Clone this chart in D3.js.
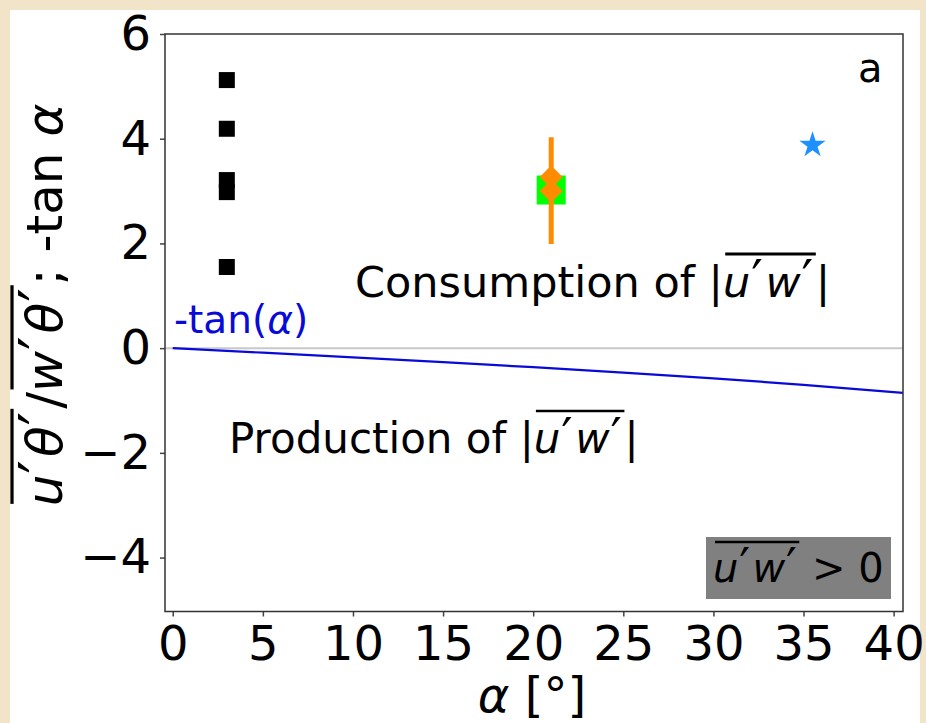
<!DOCTYPE html>
<html>
<head>
<meta charset="utf-8">
<script src="https://cdn.jsdelivr.net/npm/d3@7"></script>
<style>
  html, body { margin: 0; padding: 0; background: #f2e4c8; }
  svg { display: block; }
  text { font-family: "DejaVu Sans", sans-serif; fill: #000; white-space: pre; }
</style>
</head>
<body>
<svg id="chart" width="926" height="723"></svg>
<script>
// ---- data ----
const xTicks = [0, 5, 10, 15, 20, 25, 30, 35, 40];
const yTicks = [-4, -2, 0, 2, 4, 6];

// observations at alpha = 3 deg (black squares)
const squaresAlpha = [3, 3, 3, 3, 3];
const squaresRatio = [5.12, 4.19, 3.21, 2.98, 1.55];

// alpha = 21 deg: green square, orange diamonds with error bar
const greenAlpha = [21];
const greenRatio = [3.02];
const orangeAlpha = [21, 21];
const orangeRatio = [3.27, 3.0];
const orangeErrLow = [1.99];
const orangeErrHigh = [4.03];

// alpha = 35.5 deg: blue star
const starAlpha = [35.5];
const starRatio = [3.88];

// -tan(alpha) curve
const curveAlpha = [0, 5, 10, 15, 20, 25, 30, 35, 40, 41];
const curveValue = [0, -0.087, -0.176, -0.268, -0.364, -0.466, -0.577, -0.700, -0.839, -0.869];

// ---- layout ----
const svg = d3.select("#chart");
svg.append("rect").attr("x", 0).attr("y", 0).attr("width", 926).attr("height", 723).attr("fill", "#f2e4c8");
svg.append("rect").attr("x", 10).attr("y", 10).attr("width", 910).attr("height", 713).attr("fill", "#ffffff");

const plot = { left: 165, right: 903, top: 34, bottom: 611.5 };
const x = d3.scaleLinear().domain([-0.43, 40.52]).range([plot.left, plot.right]);
const y = d3.scaleLinear().domain([-5.03, 6]).range([plot.bottom, plot.top]);

svg.append("clipPath").attr("id", "clip")
  .append("rect").attr("x", plot.left).attr("y", plot.top)
  .attr("width", plot.right - plot.left).attr("height", plot.bottom - plot.top);

const body = svg.append("g").attr("clip-path", "url(#clip)");

// zero reference line
body.append("line")
  .attr("x1", x(-0.43)).attr("x2", x(40.52))
  .attr("y1", y(0)).attr("y2", y(0))
  .attr("stroke", "#c8c8c8").attr("stroke-width", 2);

// -tan(alpha) curve
body.append("path")
  .datum(curveAlpha.map((a, i) => [a, curveValue[i]]))
  .attr("d", d3.line().x(d => x(d[0])).y(d => y(d[1])))
  .attr("fill", "none").attr("stroke", "#0a0ad8").attr("stroke-width", 2.2);

// black squares
const sq = 16;
body.selectAll(".blk").data(squaresAlpha.map((a, i) => [a, squaresRatio[i]]))
  .join("rect").attr("class", "blk")
  .attr("x", d => x(d[0]) - sq / 2).attr("y", d => y(d[1]) - sq / 2)
  .attr("width", sq).attr("height", sq).attr("fill", "#000");

// green square
const gsq = 29;
body.selectAll(".grn").data(greenAlpha.map((a, i) => [a, greenRatio[i]]))
  .join("rect").attr("class", "grn")
  .attr("x", d => x(d[0]) - gsq / 2).attr("y", d => y(d[1]) - gsq / 2)
  .attr("width", gsq).attr("height", gsq).attr("fill", "#00ff00");

// orange error bar
body.selectAll(".err").data(orangeErrLow.map((lo, i) => [orangeAlpha[i], lo, orangeErrHigh[i]]))
  .join("line").attr("class", "err")
  .attr("x1", d => x(d[0])).attr("x2", d => x(d[0]))
  .attr("y1", d => y(d[1])).attr("y2", d => y(d[2]))
  .attr("stroke", "#ff8c00").attr("stroke-width", 5);

// orange diamonds
const dh = 11.5;
body.selectAll(".dia").data(orangeAlpha.map((a, i) => [a, orangeRatio[i]]))
  .join("path").attr("class", "dia")
  .attr("transform", d => `translate(${x(d[0])},${y(d[1])})`)
  .attr("d", `M0,${-dh}L${dh},0L0,${dh}L${-dh},0Z`)
  .attr("fill", "#ff8c00");

// blue star
body.selectAll(".star").data(starAlpha.map((a, i) => [a, starRatio[i]]))
  .join("path").attr("class", "star")
  .attr("transform", d => `translate(${x(d[0])},${y(d[1])})`)
  .attr("d", d3.symbol().type(d3.symbolStar).size(215))
  .attr("fill", "#1e90ff");

// ---- axes ----
const fmt = d3.format("");
const xAxis = svg.append("g").attr("transform", `translate(0,${plot.bottom})`)
  .call(d3.axisBottom(x).tickValues(xTicks).tickSize(5).tickPadding(9).tickFormat(fmt));
const yAxis = svg.append("g").attr("transform", `translate(${plot.left},0)`)
  .call(d3.axisLeft(y).tickValues(yTicks).tickSize(5).tickPadding(9).tickFormat(fmt));
[xAxis, yAxis].forEach(a => {
  a.select(".domain").remove();
  a.selectAll(".tick line").attr("stroke", "#444").attr("stroke-width", 1.5);
  a.selectAll(".tick text").attr("font-size", 48).attr("font-family", "DejaVu Sans").attr("fill", "#000");
});

// frame
svg.append("rect").attr("x", plot.left).attr("y", plot.top)
  .attr("width", plot.right - plot.left).attr("height", plot.bottom - plot.top)
  .attr("fill", "none").attr("stroke", "#333").attr("stroke-width", 1.5);

// ---- rich text helper: segments laid out in a row ----
// a segment may be italic (it), carry an overline group id (over),
// or be a prime mark (pr) drawn upright, slightly larger, with a little room after it
function rich(parent, segs, px, py, fs, anchor, color, rotate) {
  const col = color || "#000";
  const g = parent.append("g");
  const inner = g.append("g");
  let cx = 0;
  const spans = {};
  segs.forEach(s => {
    const size = s.pr ? fs * 1.2 : fs;
    const t = inner.append("text").attr("x", cx + (s.pr ? fs * 0.02 : 0)).attr("y", s.pr ? -fs * 0.01 : 0)
      .attr("font-size", size).style("font-style", s.it ? "italic" : "normal")
      .style("fill", col).text(s.t);
    const w = t.node().getComputedTextLength() + (s.pr ? fs * 0.08 : 0);
    if (s.over) {
      if (!spans[s.over]) spans[s.over] = [cx, cx + w];
      spans[s.over][1] = cx + w;
    }
    cx += w;
  });
  Object.values(spans).forEach(([a, b]) => {
    inner.append("line").attr("x1", a + fs * 0.05).attr("x2", b)
      .attr("y1", -fs * 1.0).attr("y2", -fs * 1.0)
      .attr("stroke", col).attr("stroke-width", fs * 0.065);
  });
  const shift = anchor === "middle" ? -cx / 2 : anchor === "end" ? -cx : 0;
  inner.attr("transform", `translate(${shift},0)`);
  g.attr("transform", `translate(${px},${py})` + (rotate ? ` rotate(${rotate})` : ""));
  return g;
}

// overlined u'w' as segments
const uw = (id) => [
  { t: "u", it: true, over: id }, { t: "′", pr: true, over: id },
  { t: "w", it: true, over: id }, { t: "′", pr: true, over: id }
];

// axis labels
rich(svg, [{ t: "α", it: true }, { t: " [°]" }], (plot.left + plot.right) / 2 - 2, 712, 48, "middle");
rich(svg, [
  { t: "u", it: true, over: 1 }, { t: "′", pr: true, over: 1 }, { t: "θ", it: true, over: 1 }, { t: "′", pr: true, over: 1 },
  { t: "/" },
  { t: "w", it: true, over: 2 }, { t: "′", pr: true, over: 2 }, { t: "θ", it: true, over: 2 }, { t: "′", pr: true, over: 2 },
  { t: "; -tan " }, { t: "α", it: true }
], 62, 305, 50, "middle", "#000", -90);

// annotations
rich(svg, [{ t: "a" }], 858, 82, 40, "start");
rich(svg, [{ t: "-tan(" }, { t: "α", it: true }, { t: ")" }], 174, 333, 39, "start", "#0a0ad8");
rich(svg, [{ t: "Consumption of |" }, ...uw(1), { t: "|" }], 355, 297, 43, "start");
rich(svg, [{ t: "Production of |" }, ...uw(1), { t: "|" }], 229, 453, 42, "start");

// shaded box
svg.append("rect").attr("x", 706).attr("y", 537).attr("width", 185).attr("height", 62).attr("fill", "#808080");
rich(svg, [...uw(1), { t: " > 0" }], 713, 582, 40, "start");
</script>
</body>
</html>
